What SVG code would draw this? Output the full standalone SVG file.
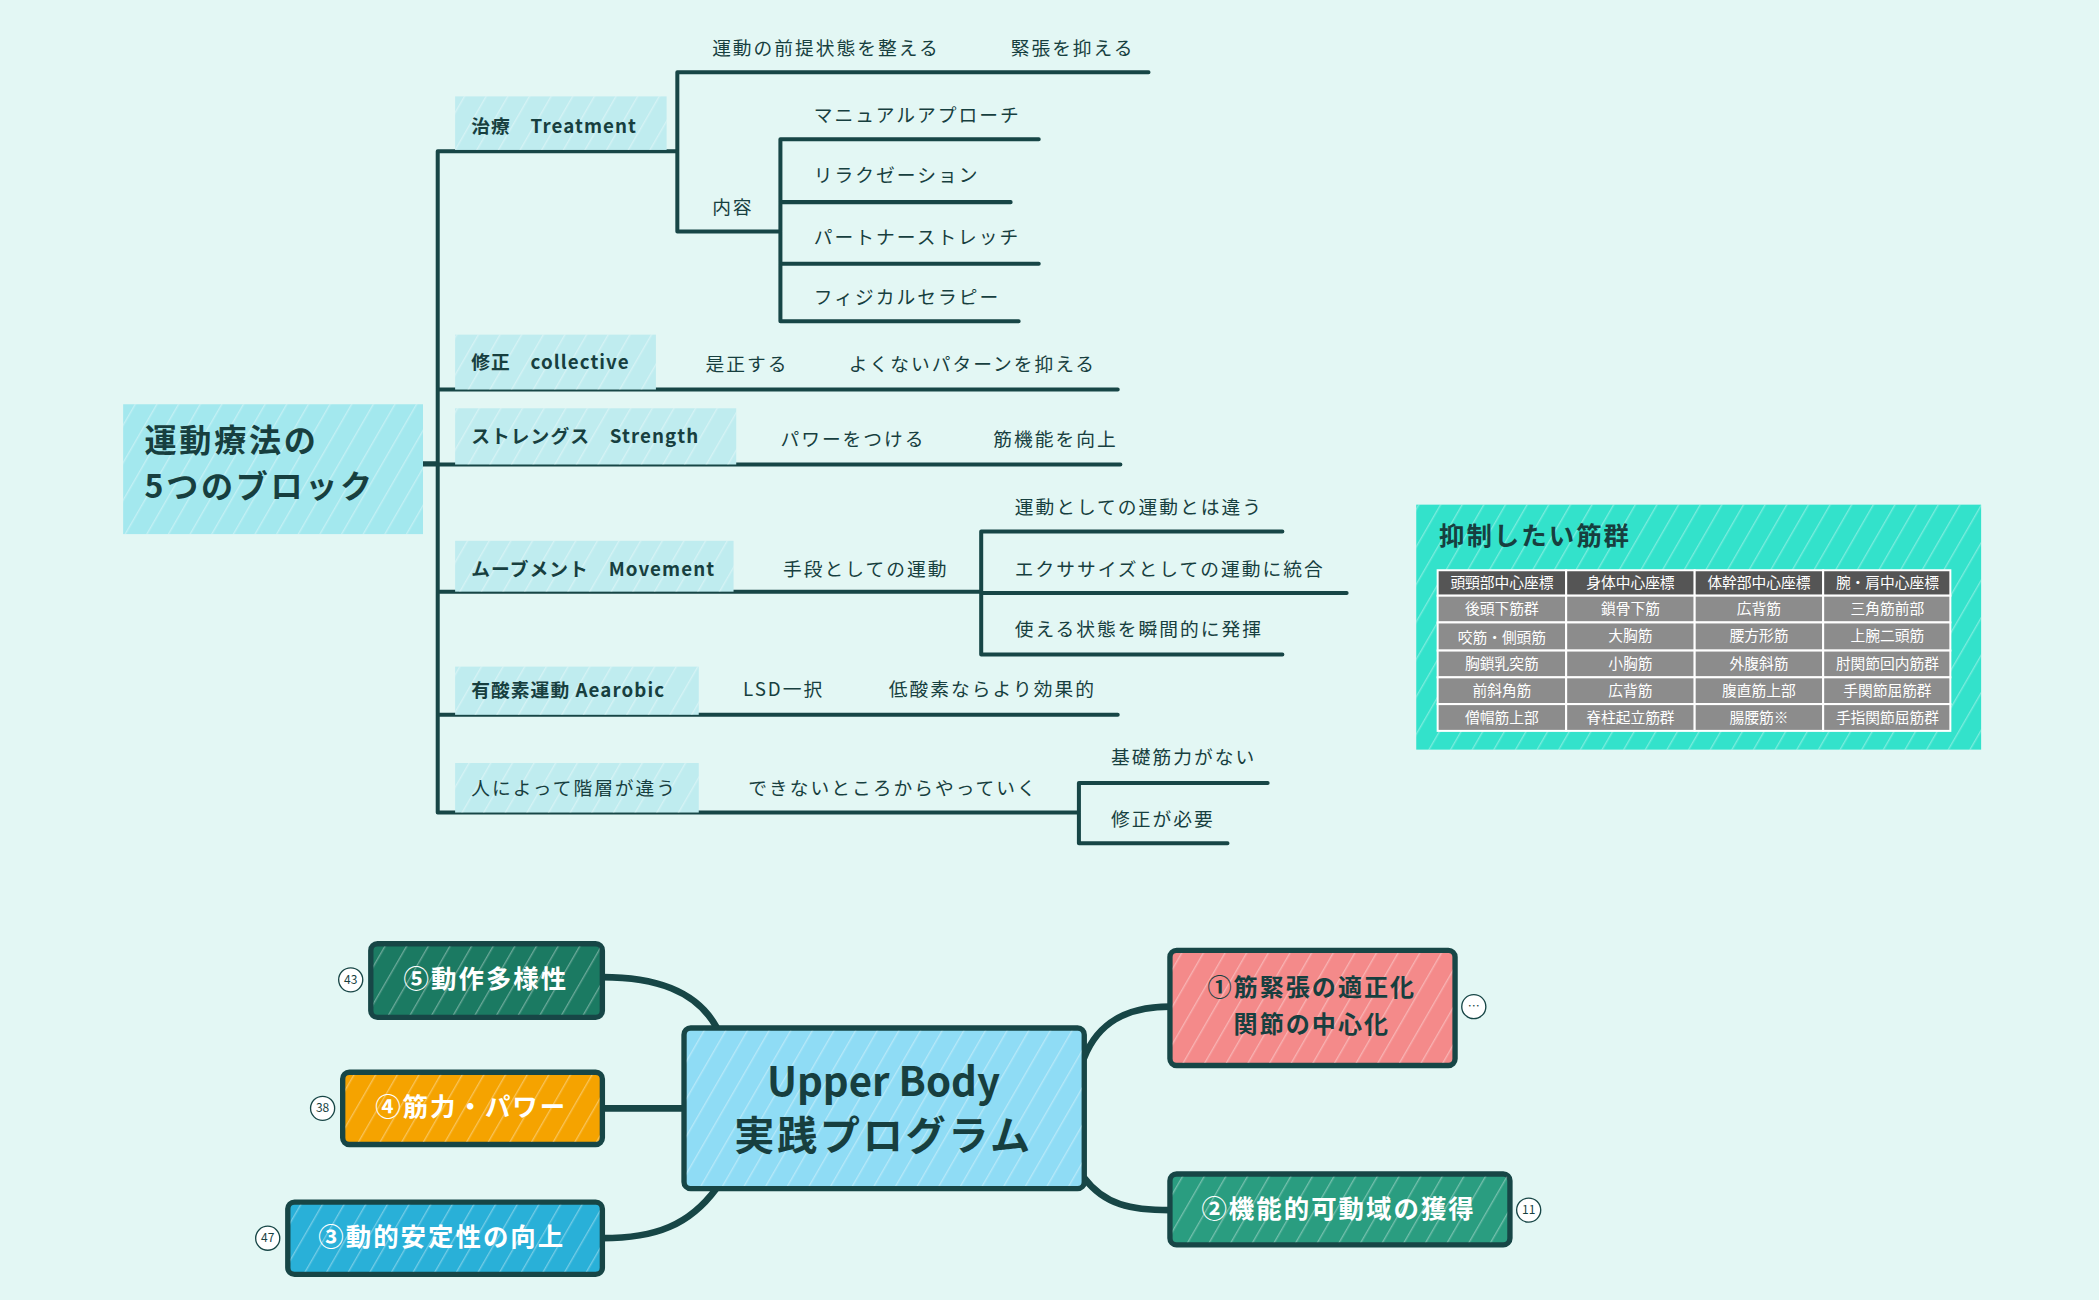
<svg xmlns="http://www.w3.org/2000/svg" width="2099" height="1300" viewBox="0 0 2099 1300">
<defs>
<pattern id="hatch" patternUnits="userSpaceOnUse" width="14" height="14" patternTransform="rotate(30)">
<line x1="0" y1="0" x2="0" y2="14" stroke="#ffffff" stroke-opacity="0.35" stroke-width="2"/>
</pattern>
<style>
text{font-family:"Noto Sans CJK JP","Noto Sans",sans-serif;fill:#173f3f}
.t{font-size:14px;letter-spacing:1.5px}
.lb{font-size:14px;font-weight:bold;letter-spacing:0.8px}
.ln{stroke:#174646;stroke-width:3;fill:none;stroke-linecap:round}
.lbg{fill:#bfecef}
.th{fill:#555555;stroke:#ffffff;stroke-width:1.5}
.td{fill:#8c8c8c;stroke:#ffffff;stroke-width:1.5}
.tt{font-size:11px;fill:#ffffff;text-anchor:middle}
.nd{stroke:#174646;stroke-width:4}
.wt{fill:#ffffff;font-size:19px;font-weight:bold;text-anchor:middle;letter-spacing:1.5px}
.cnt{fill:#ffffff;stroke:#174646;stroke-width:1}
.ct{font-size:9px;text-anchor:middle}
.cn{stroke:#174646;stroke-width:5;fill:none;stroke-linecap:round}
</style>
</defs>
<rect width="2099" height="1300" fill="#e3f7f4"/>
<g transform="scale(1.3386)">
<g id="connectors">
<path class="ln" d="M314 346H327M327 113V607M327 113H506M506 54V173M506 54H858M506 173H583M583 104V240M583 104H776M583 151H755M583 197H776M583 240H761M327 291H835M314 347H837M327 442H733M733 397V489M733 397H958M733 443H1006M733 489H958M327 534H835M327 607H806M806 585V630M806 585H947M806 630H917"/>
<path class="cn" d="M535 767C520 740 490 730 450 730"/>
<path class="cn" d="M510 828H450"/>
<path class="cn" d="M535 888C515 915 490 925 450 925"/>
<path class="cn" d="M810 790C820 765 840 752 874 752"/>
<path class="cn" d="M810 880C825 900 845 904 874 904"/>
</g>
<g id="root">
<rect x="92" y="302" width="224" height="97" fill="#a3e8ee"/>
<rect x="92" y="302" width="224" height="97" fill="url(#hatch)"/>
<text x="108" y="338" style="font-size:24px;font-weight:bold;letter-spacing:2px">運動療法の</text>
<text x="108" y="372" style="font-size:24px;font-weight:bold;letter-spacing:2px">5つのブロック</text>
</g>
<g id="treatment">
<rect class="lbg" x="340" y="72" width="158" height="40"/><rect x="340" y="72" width="158" height="40" fill="url(#hatch)"/>
<text class="lb" x="352" y="99">治療　Treatment</text>
<text class="t" x="532" y="41">運動の前提状態を整える</text>
<text class="t" x="755" y="41">緊張を抑える</text>
<text class="t" x="532" y="160">内容</text>
<text class="t" x="608" y="91">マニュアルアプローチ</text>
<text class="t" x="608" y="136">リラクゼーション</text>
<text class="t" x="608" y="182">パートナーストレッチ</text>
<text class="t" x="608" y="227">フィジカルセラピー</text>
</g>
<g id="collective">
<rect class="lbg" x="340" y="250" width="150" height="41"/><rect x="340" y="250" width="150" height="41" fill="url(#hatch)"/>
<text class="lb" x="352" y="276">修正　collective</text>
<text class="t" x="527" y="277">是正する</text>
<text class="t" x="634" y="277">よくないパターンを抑える</text>
</g>
<g id="strength">
<rect class="lbg" x="340" y="305" width="210" height="42"/><rect x="340" y="305" width="210" height="42" fill="url(#hatch)"/>
<text class="lb" x="352" y="331">ストレングス　Strength</text>
<text class="t" x="583" y="333">パワーをつける</text>
<text class="t" x="742" y="333">筋機能を向上</text>
</g>
<g id="movement">
<rect class="lbg" x="340" y="404" width="208" height="38"/><rect x="340" y="404" width="208" height="38" fill="url(#hatch)"/>
<text class="lb" x="352" y="430">ムーブメント　Movement</text>
<text class="t" x="585" y="430">手段としての運動</text>
<text class="t" x="758" y="384">運動としての運動とは違う</text>
<text class="t" x="758" y="430">エクササイズとしての運動に統合</text>
<text class="t" x="758" y="475">使える状態を瞬間的に発揮</text>
</g>
<g id="aerobic">
<rect class="lbg" x="340" y="498" width="182" height="36"/><rect x="340" y="498" width="182" height="36" fill="url(#hatch)"/>
<text class="lb" x="352" y="521">有酸素運動 Aearobic</text>
<text class="t" x="555" y="520">LSD一択</text>
<text class="t" x="664" y="520">低酸素ならより効果的</text>
</g>
<g id="hierarchy">
<rect class="lbg" x="340" y="570" width="182" height="37"/><rect x="340" y="570" width="182" height="37" fill="url(#hatch)"/>
<text class="t" x="352" y="594">人によって階層が違う</text>
<text class="t" x="559" y="594">できないところからやっていく</text>
<text class="t" x="830" y="571">基礎筋力がない</text>
<text class="t" x="830" y="617">修正が必要</text>
</g>
<g id="table">
<rect x="1058" y="377" width="422" height="183" fill="#33e2cb"/>
<rect x="1058" y="377" width="422" height="183" fill="url(#hatch)"/>
<text x="1075" y="407" style="font-size:19px;font-weight:bold;letter-spacing:1.5px">抑制したい筋群</text>
<rect class="th" x="1074" y="426" width="96" height="19"/><rect class="th" x="1170" y="426" width="96" height="19"/><rect class="th" x="1266" y="426" width="96" height="19"/><rect class="th" x="1362" y="426" width="95" height="19"/>
<g class="rows">
<rect class="td" x="1074" y="445" width="96" height="20"/><rect class="td" x="1170" y="445" width="96" height="20"/><rect class="td" x="1266" y="445" width="96" height="20"/><rect class="td" x="1362" y="445" width="95" height="20"/>
<rect class="td" x="1074" y="465" width="96" height="21"/><rect class="td" x="1170" y="465" width="96" height="21"/><rect class="td" x="1266" y="465" width="96" height="21"/><rect class="td" x="1362" y="465" width="95" height="21"/>
<rect class="td" x="1074" y="486" width="96" height="20"/><rect class="td" x="1170" y="486" width="96" height="20"/><rect class="td" x="1266" y="486" width="96" height="20"/><rect class="td" x="1362" y="486" width="95" height="20"/>
<rect class="td" x="1074" y="506" width="96" height="20"/><rect class="td" x="1170" y="506" width="96" height="20"/><rect class="td" x="1266" y="506" width="96" height="20"/><rect class="td" x="1362" y="506" width="95" height="20"/>
<rect class="td" x="1074" y="526" width="96" height="20"/><rect class="td" x="1170" y="526" width="96" height="20"/><rect class="td" x="1266" y="526" width="96" height="20"/><rect class="td" x="1362" y="526" width="95" height="20"/>
</g>
<text class="tt" x="1122" y="439">頭頸部中心座標</text><text class="tt" x="1218" y="439">身体中心座標</text><text class="tt" x="1314" y="439">体幹部中心座標</text><text class="tt" x="1410" y="439">腕・肩中心座標</text>
<text class="tt" x="1122" y="459">後頭下筋群</text><text class="tt" x="1218" y="459">鎖骨下筋</text><text class="tt" x="1314" y="459">広背筋</text><text class="tt" x="1410" y="459">三角筋前部</text>
<text class="tt" x="1122" y="480">咬筋・側頭筋</text><text class="tt" x="1218" y="479">大胸筋</text><text class="tt" x="1314" y="479">腰方形筋</text><text class="tt" x="1410" y="479">上腕二頭筋</text>
<text class="tt" x="1122" y="500">胸鎖乳突筋</text><text class="tt" x="1218" y="500">小胸筋</text><text class="tt" x="1314" y="500">外腹斜筋</text><text class="tt" x="1410" y="500">肘関節回内筋群</text>
<text class="tt" x="1122" y="520">前斜角筋</text><text class="tt" x="1218" y="520">広背筋</text><text class="tt" x="1314" y="520">腹直筋上部</text><text class="tt" x="1410" y="520">手関節屈筋群</text>
<text class="tt" x="1122" y="540">僧帽筋上部</text><text class="tt" x="1218" y="540">脊柱起立筋群</text><text class="tt" x="1314" y="540">腸腰筋※</text><text class="tt" x="1410" y="540">手指関節屈筋群</text>
</g>
<g id="center">
<rect class="nd" x="511" y="768" width="299" height="120" rx="5" fill="#8fdcf5"/>
<rect x="513" y="770" width="295" height="116" fill="url(#hatch)"/>
<text x="660" y="819" style="font-size:30px;font-weight:bold;text-anchor:middle">Upper Body</text>
<text x="660" y="859" style="font-size:30px;font-weight:bold;text-anchor:middle;letter-spacing:2px">実践プログラム</text>
</g>
<g id="n1">
<rect class="nd" x="874" y="710" width="213" height="86" rx="5" fill="#f48a8a"/>
<rect x="876" y="712" width="209" height="82" fill="url(#hatch)"/>
<text x="980" y="744" style="font-size:18px;font-weight:bold;text-anchor:middle;letter-spacing:1.5px">①筋緊張の適正化</text>
<text x="980" y="772" style="font-size:18px;font-weight:bold;text-anchor:middle;letter-spacing:1.5px">関節の中心化</text>
<circle class="cnt" cx="1101" cy="752" r="9"/><text class="ct" x="1101" y="755">…</text>
</g>
<g id="n2">
<rect class="nd" x="874" y="877" width="254" height="53" rx="5" fill="#2a9d80"/>
<rect x="876" y="879" width="250" height="49" fill="url(#hatch)"/>
<text class="wt" x="1000" y="910">②機能的可動域の獲得</text>
<circle class="cnt" cx="1142" cy="904" r="9"/><text class="ct" x="1142" y="907">11</text>
</g>
<g id="n5">
<rect class="nd" x="277" y="705" width="173" height="55" rx="5" fill="#1b7a62"/>
<rect x="279" y="707" width="169" height="51" fill="url(#hatch)"/>
<text class="wt" x="363" y="738">⑤動作多様性</text>
<circle class="cnt" cx="262" cy="732" r="9"/><text class="ct" x="262" y="735">43</text>
</g>
<g id="n4">
<rect class="nd" x="256" y="801" width="194" height="54" rx="5" fill="#f5a300"/>
<rect x="258" y="803" width="190" height="50" fill="url(#hatch)"/>
<text class="wt" x="352" y="834">④筋力・パワー</text>
<circle class="cnt" cx="241" cy="828" r="9"/><text class="ct" x="241" y="831">38</text>
</g>
<g id="n3">
<rect class="nd" x="215" y="898" width="235" height="54" rx="5" fill="#29b0d8"/>
<rect x="217" y="900" width="231" height="50" fill="url(#hatch)"/>
<text class="wt" x="330" y="931">③動的安定性の向上</text>
<circle class="cnt" cx="200" cy="925" r="9"/><text class="ct" x="200" y="928">47</text>
</g>
</g>
</svg>
